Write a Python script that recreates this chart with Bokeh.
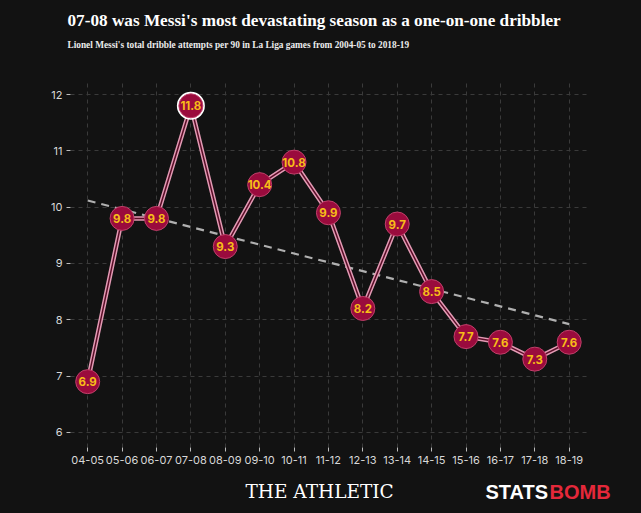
import numpy as np
from bokeh.plotting import figure
from bokeh.layouts import column
from bokeh.models import FixedTicker, ColumnDataSource, Range1d
from bokeh.core.properties import value
from bokeh.embed import file_html
from bokeh.resources import INLINE

seasons = ["04-05", "05-06", "06-07", "07-08", "08-09", "09-10", "10-11", "11-12",
           "12-13", "13-14", "14-15", "15-16", "16-17", "17-18", "18-19"]
dribbles = [6.9, 9.8, 9.8, 11.8, 9.3, 10.4, 10.8, 9.9, 8.2, 9.7, 8.5, 7.7, 7.6, 7.3, 7.6]
y_ticks = [6, 7, 8, 9, 10, 11, 12]
highlight = "07-08"

title_text = "07-08 was Messi's most devastating season as a one-on-one dribbler"
subtitle_text = "Lionel Messi's total dribble attempts per 90 in La Liga games from 2004-05 to 2018-19"

BG = "#121212"
W = 641
HEAD_H, CHART_H, FOOT_H = 60, 410, 43


def blank(h, y0, y1):
    f = figure(width=W, height=h, output_backend="svg", toolbar_location=None,
               x_range=Range1d(0, W), y_range=Range1d(y0, y1),
               x_axis_type=None, y_axis_type=None, min_border=0,
               frame_align=False, styles={"background-color": BG})
    f.border_fill_color = None
    f.background_fill_color = None
    f.outline_line_color = None
    f.xgrid.visible = False
    f.ygrid.visible = False
    return f


# header
head = blank(HEAD_H, HEAD_H, 0)
head.text([67], [20], text=[title_text], text_color="#ffffff",
          text_font=value("Liberation Serif"), text_font_size="17.2px",
          text_font_style="bold", text_baseline="middle")
head.text([67], [44], text=[subtitle_text], text_color="#ececec",
          text_font=value("Liberation Serif"), text_font_size="9.3px",
          text_font_style="bold", text_baseline="middle")

# chart
xs = list(range(len(seasons)))
labels = [f"{v:.1f}" for v in dribbles]
src = ColumnDataSource(dict(x=xs, y=dribbles, lab=labels))

slope, intercept = np.polyfit(xs, dribbles, 1)
trend_x = [xs[0], xs[-1]]
trend_y = [intercept + slope * xs[0], intercept + slope * xs[-1]]

chart = figure(width=W, height=CHART_H, output_backend="svg", toolbar_location=None,
               x_range=Range1d(-0.5, 14.62), y_range=Range1d(5.73, 12.25),
               min_border_left=70, min_border_right=51, min_border_top=20,
               min_border_bottom=23, frame_align=False,
               styles={"background-color": BG})
chart.background_fill_color = None
chart.border_fill_color = None
chart.outline_line_color = None

for ax in (chart.xaxis[0], chart.yaxis[0]):
    ax.axis_line_color = None
    ax.major_tick_line_color = "#bbbbbb"
    ax.major_tick_in = 0
    ax.major_tick_out = 4
    ax.minor_tick_line_color = None
    ax.major_label_text_color = "#d8d8d8"
    ax.major_label_text_font = "Inter"
    ax.major_label_text_font_size = "11px"
chart.xaxis.ticker = FixedTicker(ticks=xs)
chart.xaxis.major_label_overrides = {i: s for i, s in enumerate(seasons)}
chart.yaxis.ticker = FixedTicker(ticks=y_ticks)
chart.yaxis.major_label_standoff = 4
chart.xaxis.major_label_standoff = 4

for g in (chart.xgrid[0], chart.ygrid[0]):
    g.grid_line_color = "#3a3a3a"
    g.grid_line_dash = "4 4"
    g.grid_line_width = 1

chart.line(trend_x, trend_y, line_color="#b0b0b0", line_width=2.2, line_dash="8 6")
chart.line("x", "y", source=src, line_color="#e39ab4", line_width=4.5)
chart.line("x", "y", source=src, line_color="#5a0d27", line_width=1.5)

hi = seasons.index(highlight)
chart.scatter([xs[hi]], [dribbles[hi]], size=28, fill_color="#ffffff", line_color=None)
chart.scatter("x", "y", source=src, size=24, fill_color="#9a0b3d", line_color="#c0406a",
              line_width=1)
chart.text("x", "y", text="lab", source=src, text_align="center", text_baseline="middle",
           text_color="#f7bd18", text_font=value("Inter"), text_font_size="11.5px",
           text_font_style="bold")

# footer
foot = blank(FOOT_H, 513, 513 - FOOT_H)
foot.text([245], [491], text=["THE ATHLETIC"], text_color="#ffffff",
          text_font=value("DejaVu Serif"), text_font_size="18.5px",
          text_baseline="middle")
foot.text([485], [491], text=["STATS"], text_color="#ffffff",
          text_font=value("Liberation Sans"), text_font_size="20px",
          text_font_style="bold", text_baseline="middle")
foot.text([549], [491], text=["BOMB"], text_color="#e4283a",
          text_font=value("Liberation Sans"), text_font_size="20px",
          text_font_style="bold", text_baseline="middle")

p = column(head, chart, foot, spacing=0, styles={"background-color": BG})

open("out.html", "w").write(file_html(p, INLINE))
